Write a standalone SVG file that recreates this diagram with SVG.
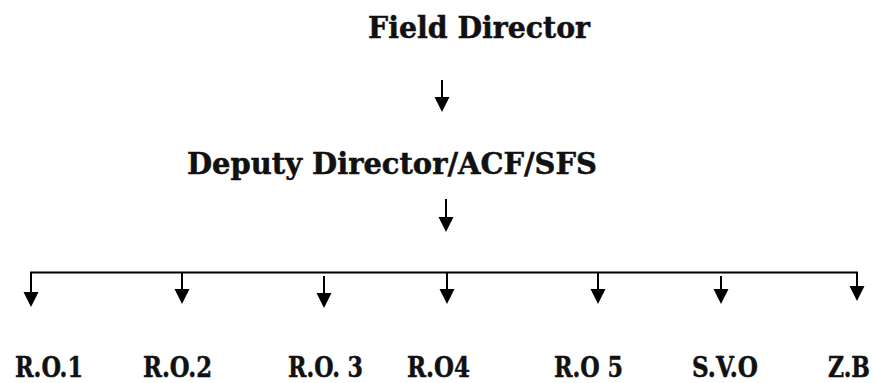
<svg xmlns="http://www.w3.org/2000/svg" xmlns:xlink="http://www.w3.org/1999/xlink" width="875" height="383" viewBox="0 0 875 383">
<style>
.t{font-family:"DejaVu Serif","Liberation Serif",serif;font-weight:bold;fill:#111;stroke:#111;stroke-width:0.5;}
.big{font-size:29.5px;}
.sm{font-size:28.5px;}
.ln{stroke:#000;stroke-width:2;fill:none;}
</style>
<defs>
<path id="head" d="M-7.5,0 L7.5,0 L0,15 Z" fill="#000"/>
</defs>
<rect width="875" height="383" fill="#fff"/>
<g id="field-director"><text class="t big" x="368" y="38" textLength="222" lengthAdjust="spacingAndGlyphs">Field Director</text></g>
<g id="deputy-director"><text class="t big" x="187" y="174" textLength="410" lengthAdjust="spacingAndGlyphs">Deputy Director/ACF/SFS</text></g>
<g id="ro1"><text class="t sm" x="15" y="377" textLength="68" lengthAdjust="spacingAndGlyphs">R.O.1</text></g>
<g id="ro2"><text class="t sm" x="143" y="377" textLength="69" lengthAdjust="spacingAndGlyphs">R.O.2</text></g>
<g id="ro3"><text class="t sm" x="288" y="377" textLength="75" lengthAdjust="spacingAndGlyphs">R.O. 3</text></g>
<g id="ro4"><text class="t sm" x="407" y="377" textLength="63" lengthAdjust="spacingAndGlyphs">R.O4</text></g>
<g id="ro5"><text class="t sm" x="554" y="377" textLength="69" lengthAdjust="spacingAndGlyphs">R.O 5</text></g>
<g id="svo"><text class="t sm" x="692" y="377" textLength="66" lengthAdjust="spacingAndGlyphs">S.V.O</text></g>
<g id="zb"><text class="t sm" x="828" y="377" textLength="42" lengthAdjust="spacingAndGlyphs">Z.B</text></g>
<g id="connectors">
<line class="ln" x1="442" y1="80" x2="442" y2="98"/>
<use xlink:href="#head" x="442" y="97"/>
<line class="ln" x1="446" y1="199" x2="446" y2="218"/>
<use xlink:href="#head" x="446" y="217"/>
<path class="ln" d="M31,293 V272.5 H857 V288"/>
<use xlink:href="#head" x="31" y="292"/>
<line class="ln" x1="182" y1="272.5" x2="182" y2="290"/>
<use xlink:href="#head" x="182" y="289"/>
<line class="ln" x1="324" y1="276" x2="324" y2="294"/>
<use xlink:href="#head" x="324" y="293"/>
<line class="ln" x1="447" y1="272.5" x2="447" y2="290"/>
<use xlink:href="#head" x="447" y="289"/>
<line class="ln" x1="598" y1="272.5" x2="598" y2="290"/>
<use xlink:href="#head" x="598" y="289"/>
<line class="ln" x1="721" y1="276" x2="721" y2="290"/>
<use xlink:href="#head" x="721" y="289"/>
<use xlink:href="#head" x="857" y="286"/>
</g>
</svg>
